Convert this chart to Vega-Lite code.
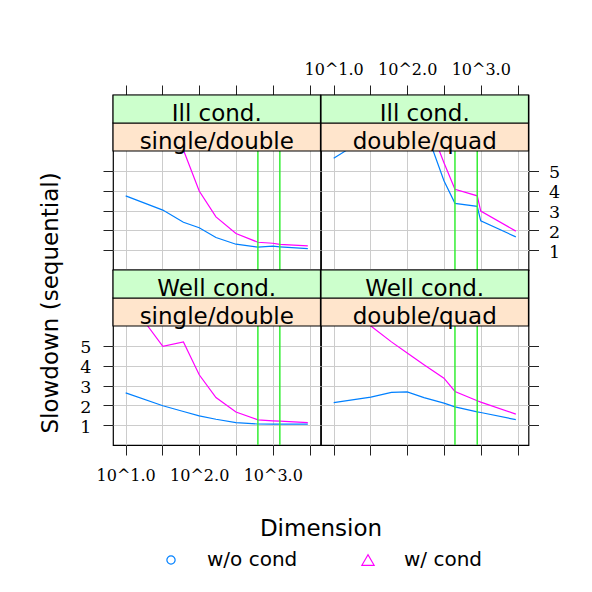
{
  "$schema": "https://vega.github.io/schema/vega-lite/v6.json",
  "background": "white",
  "padding": {"left": 38, "top": 60, "right": 5, "bottom": 5},
  "autosize": {"type": "pad"},
  "datasets": {
    "lines": [
      {"cond": "Ill cond.", "prec": "single/double", "series": "w/o cond", "dim": 10, "slowdown": 3.74},
      {"cond": "Ill cond.", "prec": "single/double", "series": "w/o cond", "dim": 32, "slowdown": 3.02},
      {"cond": "Ill cond.", "prec": "single/double", "series": "w/o cond", "dim": 61, "slowdown": 2.41},
      {"cond": "Ill cond.", "prec": "single/double", "series": "w/o cond", "dim": 100, "slowdown": 2.13},
      {"cond": "Ill cond.", "prec": "single/double", "series": "w/o cond", "dim": 169, "slowdown": 1.64},
      {"cond": "Ill cond.", "prec": "single/double", "series": "w/o cond", "dim": 316, "slowdown": 1.30},
      {"cond": "Ill cond.", "prec": "single/double", "series": "w/o cond", "dim": 628, "slowdown": 1.15},
      {"cond": "Ill cond.", "prec": "single/double", "series": "w/o cond", "dim": 1000, "slowdown": 1.20},
      {"cond": "Ill cond.", "prec": "single/double", "series": "w/o cond", "dim": 1249, "slowdown": 1.17},
      {"cond": "Ill cond.", "prec": "single/double", "series": "w/o cond", "dim": 3000, "slowdown": 1.08},
      {"cond": "Ill cond.", "prec": "single/double", "series": "w/ cond", "dim": 10, "slowdown": 12},
      {"cond": "Ill cond.", "prec": "single/double", "series": "w/ cond", "dim": 32, "slowdown": 8.5},
      {"cond": "Ill cond.", "prec": "single/double", "series": "w/ cond", "dim": 61, "slowdown": 6.05},
      {"cond": "Ill cond.", "prec": "single/double", "series": "w/ cond", "dim": 100, "slowdown": 3.98},
      {"cond": "Ill cond.", "prec": "single/double", "series": "w/ cond", "dim": 169, "slowdown": 2.68},
      {"cond": "Ill cond.", "prec": "single/double", "series": "w/ cond", "dim": 316, "slowdown": 1.84},
      {"cond": "Ill cond.", "prec": "single/double", "series": "w/ cond", "dim": 628, "slowdown": 1.40},
      {"cond": "Ill cond.", "prec": "single/double", "series": "w/ cond", "dim": 1000, "slowdown": 1.35},
      {"cond": "Ill cond.", "prec": "single/double", "series": "w/ cond", "dim": 1249, "slowdown": 1.29},
      {"cond": "Ill cond.", "prec": "single/double", "series": "w/ cond", "dim": 3000, "slowdown": 1.22},

      {"cond": "Ill cond.", "prec": "double/quad", "series": "w/o cond", "dim": 10, "slowdown": 5.63},
      {"cond": "Ill cond.", "prec": "double/quad", "series": "w/o cond", "dim": 32, "slowdown": 6.8},
      {"cond": "Ill cond.", "prec": "double/quad", "series": "w/o cond", "dim": 61, "slowdown": 8.0},
      {"cond": "Ill cond.", "prec": "double/quad", "series": "w/o cond", "dim": 100, "slowdown": 8.4},
      {"cond": "Ill cond.", "prec": "double/quad", "series": "w/o cond", "dim": 169, "slowdown": 7.3},
      {"cond": "Ill cond.", "prec": "double/quad", "series": "w/o cond", "dim": 316, "slowdown": 4.5},
      {"cond": "Ill cond.", "prec": "double/quad", "series": "w/o cond", "dim": 446, "slowdown": 3.36},
      {"cond": "Ill cond.", "prec": "double/quad", "series": "w/o cond", "dim": 896, "slowdown": 3.21},
      {"cond": "Ill cond.", "prec": "double/quad", "series": "w/o cond", "dim": 1000, "slowdown": 2.48},
      {"cond": "Ill cond.", "prec": "double/quad", "series": "w/o cond", "dim": 3000, "slowdown": 1.67},
      {"cond": "Ill cond.", "prec": "double/quad", "series": "w/ cond", "dim": 10, "slowdown": 10},
      {"cond": "Ill cond.", "prec": "double/quad", "series": "w/ cond", "dim": 32, "slowdown": 10},
      {"cond": "Ill cond.", "prec": "double/quad", "series": "w/ cond", "dim": 61, "slowdown": 10},
      {"cond": "Ill cond.", "prec": "double/quad", "series": "w/ cond", "dim": 100, "slowdown": 10},
      {"cond": "Ill cond.", "prec": "double/quad", "series": "w/ cond", "dim": 169, "slowdown": 8.0},
      {"cond": "Ill cond.", "prec": "double/quad", "series": "w/ cond", "dim": 316, "slowdown": 5.41},
      {"cond": "Ill cond.", "prec": "double/quad", "series": "w/ cond", "dim": 446, "slowdown": 4.07},
      {"cond": "Ill cond.", "prec": "double/quad", "series": "w/ cond", "dim": 896, "slowdown": 3.74},
      {"cond": "Ill cond.", "prec": "double/quad", "series": "w/ cond", "dim": 1000, "slowdown": 2.97},
      {"cond": "Ill cond.", "prec": "double/quad", "series": "w/ cond", "dim": 3000, "slowdown": 1.96},

      {"cond": "Well cond.", "prec": "single/double", "series": "w/o cond", "dim": 10, "slowdown": 2.63},
      {"cond": "Well cond.", "prec": "single/double", "series": "w/o cond", "dim": 32, "slowdown": 1.98},
      {"cond": "Well cond.", "prec": "single/double", "series": "w/o cond", "dim": 61, "slowdown": 1.69},
      {"cond": "Well cond.", "prec": "single/double", "series": "w/o cond", "dim": 100, "slowdown": 1.47},
      {"cond": "Well cond.", "prec": "single/double", "series": "w/o cond", "dim": 169, "slowdown": 1.30},
      {"cond": "Well cond.", "prec": "single/double", "series": "w/o cond", "dim": 316, "slowdown": 1.13},
      {"cond": "Well cond.", "prec": "single/double", "series": "w/o cond", "dim": 628, "slowdown": 1.06},
      {"cond": "Well cond.", "prec": "single/double", "series": "w/o cond", "dim": 1000, "slowdown": 1.05},
      {"cond": "Well cond.", "prec": "single/double", "series": "w/o cond", "dim": 1249, "slowdown": 1.05},
      {"cond": "Well cond.", "prec": "single/double", "series": "w/o cond", "dim": 3000, "slowdown": 1.05},
      {"cond": "Well cond.", "prec": "single/double", "series": "w/ cond", "dim": 10, "slowdown": 7.5},
      {"cond": "Well cond.", "prec": "single/double", "series": "w/ cond", "dim": 32, "slowdown": 4.97},
      {"cond": "Well cond.", "prec": "single/double", "series": "w/ cond", "dim": 61, "slowdown": 5.2},
      {"cond": "Well cond.", "prec": "single/double", "series": "w/ cond", "dim": 100, "slowdown": 3.54},
      {"cond": "Well cond.", "prec": "single/double", "series": "w/ cond", "dim": 169, "slowdown": 2.39},
      {"cond": "Well cond.", "prec": "single/double", "series": "w/ cond", "dim": 316, "slowdown": 1.66},
      {"cond": "Well cond.", "prec": "single/double", "series": "w/ cond", "dim": 628, "slowdown": 1.27},
      {"cond": "Well cond.", "prec": "single/double", "series": "w/ cond", "dim": 1000, "slowdown": 1.22},
      {"cond": "Well cond.", "prec": "single/double", "series": "w/ cond", "dim": 1249, "slowdown": 1.20},
      {"cond": "Well cond.", "prec": "single/double", "series": "w/ cond", "dim": 3000, "slowdown": 1.13},

      {"cond": "Well cond.", "prec": "double/quad", "series": "w/o cond", "dim": 10, "slowdown": 2.14},
      {"cond": "Well cond.", "prec": "double/quad", "series": "w/o cond", "dim": 32, "slowdown": 2.41},
      {"cond": "Well cond.", "prec": "double/quad", "series": "w/o cond", "dim": 61, "slowdown": 2.65},
      {"cond": "Well cond.", "prec": "double/quad", "series": "w/o cond", "dim": 100, "slowdown": 2.68},
      {"cond": "Well cond.", "prec": "double/quad", "series": "w/o cond", "dim": 169, "slowdown": 2.39},
      {"cond": "Well cond.", "prec": "double/quad", "series": "w/o cond", "dim": 316, "slowdown": 2.11},
      {"cond": "Well cond.", "prec": "double/quad", "series": "w/o cond", "dim": 446, "slowdown": 1.92},
      {"cond": "Well cond.", "prec": "double/quad", "series": "w/o cond", "dim": 896, "slowdown": 1.67},
      {"cond": "Well cond.", "prec": "double/quad", "series": "w/o cond", "dim": 1000, "slowdown": 1.64},
      {"cond": "Well cond.", "prec": "double/quad", "series": "w/o cond", "dim": 3000, "slowdown": 1.28},
      {"cond": "Well cond.", "prec": "double/quad", "series": "w/ cond", "dim": 10, "slowdown": 7.4},
      {"cond": "Well cond.", "prec": "double/quad", "series": "w/ cond", "dim": 32, "slowdown": 6.0},
      {"cond": "Well cond.", "prec": "double/quad", "series": "w/ cond", "dim": 61, "slowdown": 5.2},
      {"cond": "Well cond.", "prec": "double/quad", "series": "w/ cond", "dim": 100, "slowdown": 4.64},
      {"cond": "Well cond.", "prec": "double/quad", "series": "w/ cond", "dim": 169, "slowdown": 4.05},
      {"cond": "Well cond.", "prec": "double/quad", "series": "w/ cond", "dim": 316, "slowdown": 3.37},
      {"cond": "Well cond.", "prec": "double/quad", "series": "w/ cond", "dim": 446, "slowdown": 2.70},
      {"cond": "Well cond.", "prec": "double/quad", "series": "w/ cond", "dim": 896, "slowdown": 2.23},
      {"cond": "Well cond.", "prec": "double/quad", "series": "w/ cond", "dim": 1000, "slowdown": 2.16},
      {"cond": "Well cond.", "prec": "double/quad", "series": "w/ cond", "dim": 3000, "slowdown": 1.56}
    ],
    "refs": [
      {"prec": "single/double", "dim": 628},
      {"prec": "single/double", "dim": 1249},
      {"prec": "double/quad", "dim": 446},
      {"prec": "double/quad", "dim": 896}
    ],
    "strips": [
      {"cond": "Ill cond.", "prec": "single/double"},
      {"cond": "Ill cond.", "prec": "double/quad"},
      {"cond": "Well cond.", "prec": "single/double"},
      {"cond": "Well cond.", "prec": "double/quad"}
    ]
  },
  "columns": 2,
  "spacing": 0,
  "bounds": "flush",
  "concat": [
    {
      "width": 207.5, "height": 175,
      "layer": [
        {"data": {"name": "lines"}, "transform": [{"filter": {"and": [{"field": "cond", "equal": "Ill cond."}, {"field": "prec", "equal": "single/double"}]}}],
         "mark": {"type": "line", "clip": true, "strokeWidth": 1.2},
         "encoding": {
           "x": {"field": "dim", "type": "quantitative", "scale": {"type": "log", "domain": [6.722, 4462], "nice": false},
                 "axis": {"orient": "top", "values": [10, 31.6228, 100, 316.228, 1000, 3162.28], "labels": false, "title": null}},
           "y": {"field": "slowdown", "type": "quantitative", "scale": {"domain": [0, 8.824], "nice": false, "zero": false},
                 "axis": {"orient": "left", "values": [1, 2, 3, 4, 5], "labels": false, "title": null}},
           "color": {"field": "series", "type": "nominal", "scale": {"domain": ["w/o cond", "w/ cond"], "range": ["#0080ff", "#ff00ff"]},
                     "legend": {"title": null, "orient": "none", "legendX": 48, "legendY": 455, "direction": "horizontal", "columns": 2, "labelFont": "DejaVu Sans", "labelFontSize": 20, "labelColor": "black", "labelOffset": 26, "columnPadding": 60, "symbolSize": 100, "symbolStrokeWidth": 1.2, "padding": 0,
                                "encode": {"symbols": {"update": {"shape": {"signal": "datum.value === 'w/ cond' ? 'triangle-up' : 'circle'"}, "size": {"signal": "datum.value === 'w/ cond' ? 150 : 68"}, "fill": {"value": "transparent"}, "strokeWidth": {"value": 1.2}}}}}}}},
        {"data": {"name": "refs"}, "transform": [{"filter": {"field": "prec", "equal": "single/double"}}],
         "mark": {"type": "rule", "color": "#33ee33", "strokeWidth": 1.5},
         "encoding": {"x": {"field": "dim", "type": "quantitative"},
                      "y": {"datum": 0, "type": "quantitative"}, "y2": {"datum": 6}}},
        {"data": {"name": "strips"}, "transform": [{"filter": {"and": [{"field": "cond", "equal": "Ill cond."}, {"field": "prec", "equal": "single/double"}]}}],
         "mark": {"type": "rect", "fill": "#ffe5cc", "stroke": "black", "strokeWidth": 1.2},
         "encoding": {"y": {"datum": 6, "type": "quantitative"}, "y2": {"datum": 7.412}}},
        {"data": {"name": "strips"}, "transform": [{"filter": {"and": [{"field": "cond", "equal": "Ill cond."}, {"field": "prec", "equal": "single/double"}]}}],
         "mark": {"type": "rect", "fill": "#ccffcc", "stroke": "black", "strokeWidth": 1.2},
         "encoding": {"y": {"datum": 7.412, "type": "quantitative"}, "y2": {"datum": 8.824}}},
        {"data": {"name": "strips"}, "transform": [{"filter": {"and": [{"field": "cond", "equal": "Ill cond."}, {"field": "prec", "equal": "single/double"}]}}],
         "mark": {"type": "text", "font": "DejaVu Sans", "fontSize": 23, "baseline": "alphabetic", "color": "black"},
         "encoding": {"y": {"datum": 6.09, "type": "quantitative"}, "text": {"field": "prec"}}},
        {"data": {"name": "strips"}, "transform": [{"filter": {"and": [{"field": "cond", "equal": "Ill cond."}, {"field": "prec", "equal": "single/double"}]}}],
         "mark": {"type": "text", "font": "DejaVu Sans", "fontSize": 23, "baseline": "alphabetic", "color": "black"},
         "encoding": {"y": {"datum": 7.502, "type": "quantitative"}, "text": {"field": "cond"}}}
      ]
    },
    {
      "width": 207.5, "height": 175,
      "layer": [
        {"data": {"name": "lines"}, "transform": [{"filter": {"and": [{"field": "cond", "equal": "Ill cond."}, {"field": "prec", "equal": "double/quad"}]}}],
         "mark": {"type": "line", "clip": true, "strokeWidth": 1.2},
         "encoding": {
           "x": {"field": "dim", "type": "quantitative", "scale": {"type": "log", "domain": [6.722, 4462], "nice": false},
                 "axis": {"orient": "top", "values": [10, 31.6228, 100, 316.228, 1000, 3162.28], "labelPadding": 11, "labelBaseline": "alphabetic", "title": null,
                          "labelExpr": "abs(log(datum.value)/LN10 - round(log(datum.value)/LN10)) < 0.01 ? '10^' + format(log(datum.value)/LN10, '.1f') : ''"}},
           "y": {"field": "slowdown", "type": "quantitative", "scale": {"domain": [0, 8.824], "nice": false, "zero": false},
                 "axis": {"orient": "right", "values": [1, 2, 3, 4, 5], "labelPadding": 10, "labelBaseline": "middle", "labelOffset": 2, "labelFontSize": 17.5, "title": null}},
           "color": {"field": "series", "type": "nominal", "scale": {"domain": ["w/o cond", "w/ cond"], "range": ["#0080ff", "#ff00ff"]}}}},
        {"data": {"name": "refs"}, "transform": [{"filter": {"field": "prec", "equal": "double/quad"}}],
         "mark": {"type": "rule", "color": "#33ee33", "strokeWidth": 1.5},
         "encoding": {"x": {"field": "dim", "type": "quantitative"},
                      "y": {"datum": 0, "type": "quantitative"}, "y2": {"datum": 6}}},
        {"data": {"name": "strips"}, "transform": [{"filter": {"and": [{"field": "cond", "equal": "Ill cond."}, {"field": "prec", "equal": "double/quad"}]}}],
         "mark": {"type": "rect", "fill": "#ffe5cc", "stroke": "black", "strokeWidth": 1.2},
         "encoding": {"y": {"datum": 6, "type": "quantitative"}, "y2": {"datum": 7.412}}},
        {"data": {"name": "strips"}, "transform": [{"filter": {"and": [{"field": "cond", "equal": "Ill cond."}, {"field": "prec", "equal": "double/quad"}]}}],
         "mark": {"type": "rect", "fill": "#ccffcc", "stroke": "black", "strokeWidth": 1.2},
         "encoding": {"y": {"datum": 7.412, "type": "quantitative"}, "y2": {"datum": 8.824}}},
        {"data": {"name": "strips"}, "transform": [{"filter": {"and": [{"field": "cond", "equal": "Ill cond."}, {"field": "prec", "equal": "double/quad"}]}}],
         "mark": {"type": "text", "font": "DejaVu Sans", "fontSize": 23, "baseline": "alphabetic", "color": "black"},
         "encoding": {"y": {"datum": 6.09, "type": "quantitative"}, "text": {"field": "prec"}}},
        {"data": {"name": "strips"}, "transform": [{"filter": {"and": [{"field": "cond", "equal": "Ill cond."}, {"field": "prec", "equal": "double/quad"}]}}],
         "mark": {"type": "text", "font": "DejaVu Sans", "fontSize": 23, "baseline": "alphabetic", "color": "black"},
         "encoding": {"y": {"datum": 7.502, "type": "quantitative"}, "text": {"field": "cond"}}}
      ]
    },
    {
      "width": 207.5, "height": 175,
      "layer": [
        {"data": {"name": "lines"}, "transform": [{"filter": {"and": [{"field": "cond", "equal": "Well cond."}, {"field": "prec", "equal": "single/double"}]}}],
         "mark": {"type": "line", "clip": true, "strokeWidth": 1.2},
         "encoding": {
           "x": {"field": "dim", "type": "quantitative", "scale": {"type": "log", "domain": [6.722, 4462], "nice": false},
                 "axis": {"orient": "bottom", "values": [10, 31.6228, 100, 316.228, 1000, 3162.28], "labelPadding": 25, "labelBaseline": "alphabetic",
                          "labelExpr": "abs(log(datum.value)/LN10 - round(log(datum.value)/LN10)) < 0.01 ? '10^' + format(log(datum.value)/LN10, '.1f') : ''",
                          "title": "Dimension", "titleX": 207.5, "titleY": 90.7, "titleAlign": "center", "titleBaseline": "alphabetic"}},
           "y": {"field": "slowdown", "type": "quantitative", "scale": {"domain": [0, 8.824], "nice": false, "zero": false},
                 "axis": {"orient": "left", "values": [1, 2, 3, 4, 5], "labelPadding": 12, "labelBaseline": "middle", "labelOffset": 2, "labelFontSize": 17.5,
                          "title": "Slowdown (sequential)", "titleX": -56, "titleY": 163, "titleAngle": 270, "titleAlign": "left", "titleBaseline": "alphabetic"}},
           "color": {"field": "series", "type": "nominal", "scale": {"domain": ["w/o cond", "w/ cond"], "range": ["#0080ff", "#ff00ff"]}}}},
        {"data": {"name": "refs"}, "transform": [{"filter": {"field": "prec", "equal": "single/double"}}],
         "mark": {"type": "rule", "color": "#33ee33", "strokeWidth": 1.5},
         "encoding": {"x": {"field": "dim", "type": "quantitative"},
                      "y": {"datum": 0, "type": "quantitative"}, "y2": {"datum": 6}}},
        {"data": {"name": "strips"}, "transform": [{"filter": {"and": [{"field": "cond", "equal": "Well cond."}, {"field": "prec", "equal": "single/double"}]}}],
         "mark": {"type": "rect", "fill": "#ffe5cc", "stroke": "black", "strokeWidth": 1.2},
         "encoding": {"y": {"datum": 6, "type": "quantitative"}, "y2": {"datum": 7.412}}},
        {"data": {"name": "strips"}, "transform": [{"filter": {"and": [{"field": "cond", "equal": "Well cond."}, {"field": "prec", "equal": "single/double"}]}}],
         "mark": {"type": "rect", "fill": "#ccffcc", "stroke": "black", "strokeWidth": 1.2},
         "encoding": {"y": {"datum": 7.412, "type": "quantitative"}, "y2": {"datum": 8.824}}},
        {"data": {"name": "strips"}, "transform": [{"filter": {"and": [{"field": "cond", "equal": "Well cond."}, {"field": "prec", "equal": "single/double"}]}}],
         "mark": {"type": "text", "font": "DejaVu Sans", "fontSize": 23, "baseline": "alphabetic", "color": "black"},
         "encoding": {"y": {"datum": 6.09, "type": "quantitative"}, "text": {"field": "prec"}}},
        {"data": {"name": "strips"}, "transform": [{"filter": {"and": [{"field": "cond", "equal": "Well cond."}, {"field": "prec", "equal": "single/double"}]}}],
         "mark": {"type": "text", "font": "DejaVu Sans", "fontSize": 23, "baseline": "alphabetic", "color": "black"},
         "encoding": {"y": {"datum": 7.502, "type": "quantitative"}, "text": {"field": "cond"}}}
      ]
    },
    {
      "width": 207.5, "height": 175,
      "layer": [
        {"data": {"name": "lines"}, "transform": [{"filter": {"and": [{"field": "cond", "equal": "Well cond."}, {"field": "prec", "equal": "double/quad"}]}}],
         "mark": {"type": "line", "clip": true, "strokeWidth": 1.2},
         "encoding": {
           "x": {"field": "dim", "type": "quantitative", "scale": {"type": "log", "domain": [6.722, 4462], "nice": false},
                 "axis": {"orient": "bottom", "values": [10, 31.6228, 100, 316.228, 1000, 3162.28], "labels": false, "title": null}},
           "y": {"field": "slowdown", "type": "quantitative", "scale": {"domain": [0, 8.824], "nice": false, "zero": false},
                 "axis": {"orient": "right", "values": [1, 2, 3, 4, 5], "labels": false, "title": null}},
           "color": {"field": "series", "type": "nominal", "scale": {"domain": ["w/o cond", "w/ cond"], "range": ["#0080ff", "#ff00ff"]}}}},
        {"data": {"name": "refs"}, "transform": [{"filter": {"field": "prec", "equal": "double/quad"}}],
         "mark": {"type": "rule", "color": "#33ee33", "strokeWidth": 1.5},
         "encoding": {"x": {"field": "dim", "type": "quantitative"},
                      "y": {"datum": 0, "type": "quantitative"}, "y2": {"datum": 6}}},
        {"data": {"name": "strips"}, "transform": [{"filter": {"and": [{"field": "cond", "equal": "Well cond."}, {"field": "prec", "equal": "double/quad"}]}}],
         "mark": {"type": "rect", "fill": "#ffe5cc", "stroke": "black", "strokeWidth": 1.2},
         "encoding": {"y": {"datum": 6, "type": "quantitative"}, "y2": {"datum": 7.412}}},
        {"data": {"name": "strips"}, "transform": [{"filter": {"and": [{"field": "cond", "equal": "Well cond."}, {"field": "prec", "equal": "double/quad"}]}}],
         "mark": {"type": "rect", "fill": "#ccffcc", "stroke": "black", "strokeWidth": 1.2},
         "encoding": {"y": {"datum": 7.412, "type": "quantitative"}, "y2": {"datum": 8.824}}},
        {"data": {"name": "strips"}, "transform": [{"filter": {"and": [{"field": "cond", "equal": "Well cond."}, {"field": "prec", "equal": "double/quad"}]}}],
         "mark": {"type": "text", "font": "DejaVu Sans", "fontSize": 23, "baseline": "alphabetic", "color": "black"},
         "encoding": {"y": {"datum": 6.09, "type": "quantitative"}, "text": {"field": "prec"}}},
        {"data": {"name": "strips"}, "transform": [{"filter": {"and": [{"field": "cond", "equal": "Well cond."}, {"field": "prec", "equal": "double/quad"}]}}],
         "mark": {"type": "text", "font": "DejaVu Sans", "fontSize": 23, "baseline": "alphabetic", "color": "black"},
         "encoding": {"y": {"datum": 7.502, "type": "quantitative"}, "text": {"field": "cond"}}}
      ]
    }
  ],
  "config": {
    "view": {"stroke": "black", "strokeWidth": 1.2},
    "axis": {
      "domain": false, "grid": true, "gridColor": "#cccccc", "gridWidth": 1,
      "ticks": true, "tickSize": 10, "tickColor": "#222222", "tickWidth": 1,
      "labelFont": "DejaVu Serif", "labelFontSize": 16, "labelColor": "black",
      "labelFlush": false, "labelOverlap": false,
      "titleFont": "DejaVu Sans", "titleFontSize": 23, "titleFontWeight": "normal", "titleColor": "black"
    }
  }
}
